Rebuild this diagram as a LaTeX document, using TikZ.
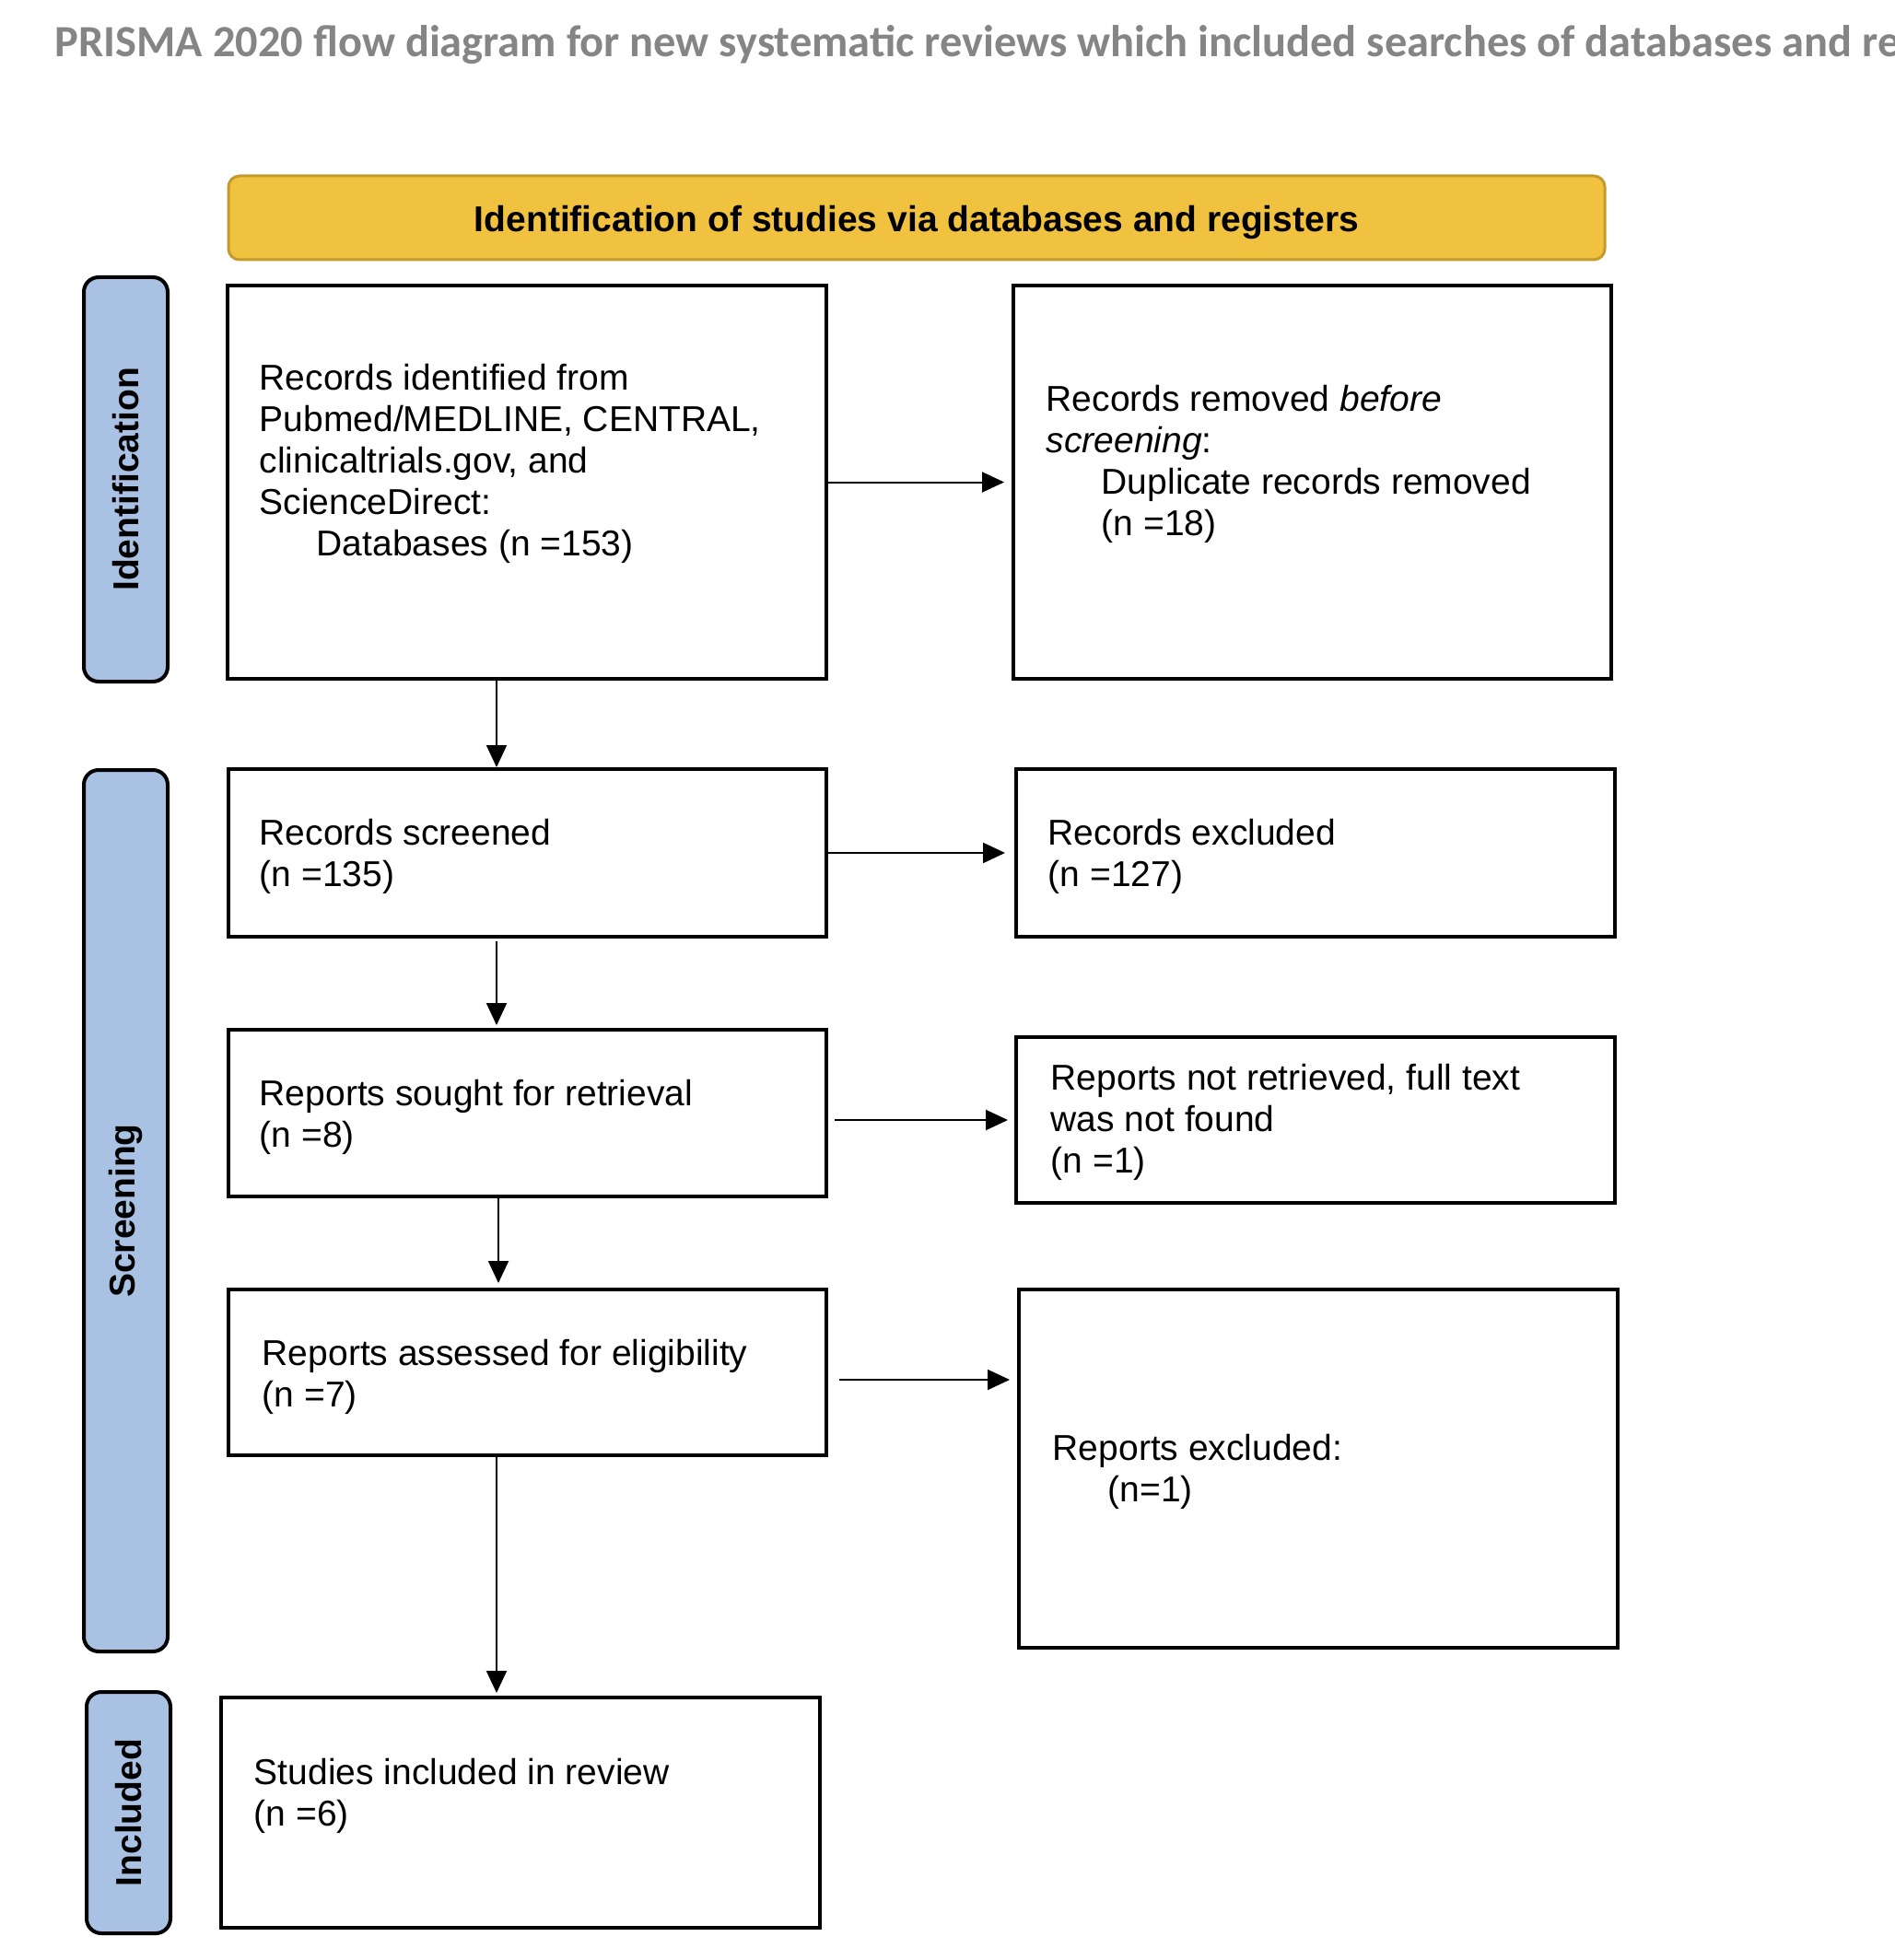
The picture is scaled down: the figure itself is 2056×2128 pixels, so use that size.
\documentclass[tikz,border=0pt]{standalone}
\usepackage{fontspec}
\setmainfont{Liberation Sans}
\newfontfamily\titlefont{Carlito}
\usetikzlibrary{arrows.meta,fit}
\definecolor{prismayellow}{HTML}{F0C23F}
\definecolor{prismagold}{HTML}{C49B2A}
\definecolor{prismablue}{HTML}{A9C1E3}
\definecolor{titlegray}{HTML}{858585}
\begin{document}
\begin{tikzpicture}[x=0.25pt, y=-0.25pt,
  box/.style={draw=black, line width=1pt, inner sep=0pt},
  phase/.style={draw=black, line width=1pt, fill=prismablue, rounded corners=4pt, inner sep=0pt},
  phaselabel/.style={rotate=90, inner sep=0pt, font=\bfseries\fontsize{9.75pt}{11.25pt}\selectfont},
  txt/.style={anchor=base west, align=left, inner sep=0pt, font=\fontsize{9.75pt}{11.25pt}\selectfont},
  arr/.style={line width=0.5pt, -{Triangle[length=6pt, width=5.5pt]}},
]
\useasboundingbox (0,0) rectangle (2056,2128);
\clip (0,0) rectangle (2056,2128);
\fill[white] (0,0) rectangle (2056,2128);

% title
\node[anchor=base west, inner sep=0pt, text=titlegray,
      font=\titlefont\bfseries\fontsize{12.1pt}{14pt}\selectfont] (title) at (59,62)
  {PRISMA 2020 flow diagram for new systematic reviews which included searches of databases and reg};

% header bar
\node[draw=prismagold, line width=0.75pt, fill=prismayellow, rounded corners=3pt, inner sep=0pt,
      fit={(248,191) (1742,282)}] (head) {};
\node[anchor=base, inner sep=0pt, font=\bfseries\fontsize{9.75pt}{11.25pt}\selectfont] (headtxt) at (995,252)
  {Identification of studies via databases and registers};

% phase labels
\node[phase, fit={(91,301) (182,740)}] (pid) {};
\node[phase, fit={(91,836) (182,1793)}] (pscr) {};
\node[phase, fit={(94,1837) (185,2099)}] (pinc) {};
\node[phaselabel] (lid) at (pid.center) {Identification};
\node[phaselabel] (lscr) at (pscr.center) {Screening};
\node[phaselabel] (linc) at (pinc.center) {Included};

% boxes
\node[box, fit={(247,310) (897,737)}] (b1) {};
\node[box, fit={(1100,310) (1749,737)}] (b2) {};
\node[box, fit={(248,835) (897,1017)}] (b3) {};
\node[box, fit={(1103,835) (1753,1017)}] (b4) {};
\node[box, fit={(248,1118) (897,1299)}] (b5) {};
\node[box, fit={(1103,1126) (1753,1306)}] (b6) {};
\node[box, fit={(248,1400) (897,1580)}] (b7) {};
\node[box, fit={(1106,1400) (1756,1789)}] (b8) {};
\node[box, fit={(240,1843) (890,2093)}] (b9) {};

% texts (anchored at the baseline of their last line)
\node[txt] (t1) at (281,603) {Records identified from\\Pubmed/MEDLINE, CENTRAL,\\clinicaltrials.gov, and\\ScienceDirect:\\\hspace*{15.5pt}Databases (n =153)};
\node[txt] (t2) at (1135,581) {Records removed \textit{before}\\\textit{screening}:\\\hspace*{15pt}Duplicate records removed\\\hspace*{15pt}(n =18)};
\node[txt] (t3) at (281,962) {Records screened\\(n =135)};
\node[txt] (t4) at (1137,962) {Records excluded\\(n =127)};
\node[txt] (t5) at (281,1245) {Reports sought for retrieval\\(n =8)};
\node[txt] (t6) at (1140,1273) {Reports not retrieved, full text\\was not found\\(n =1)};
\node[txt] (t7) at (284,1527) {Reports assessed for eligibility\\(n =7)};
\node[txt] (t8) at (1142,1630) {Reports excluded:\\\hspace*{15pt}(n=1)};
\node[txt] (t9) at (275,1982) {Studies included in review\\(n =6)};

% connectors
\coordinate (vx) at (539,0);
\coordinate (vx2) at (541,0);
\draw[arr, shorten >=2pt] (b1.east) -- (b2.west);
\draw[arr, shorten >=2.5pt] (b3.east) -- (b4.west);
\draw[arr, shorten <=1.75pt, shorten >=1.75pt] (b5.east |- b6.west) -- (b6.west);
\draw[arr, shorten <=3pt, shorten >=2pt] ([yshift=-2pt]b7.east) coordinate (a7) -- (a7 -| b8.west);
\draw[arr] (b1.south -| vx) -- (b3.north -| vx);
\draw[arr, shorten <=0.75pt, shorten >=0.75pt] (b3.south -| vx) -- (b5.north -| vx);
\draw[arr, shorten >=1.25pt] (b5.south -| vx2) -- (b7.north -| vx2);
\draw[arr, shorten >=0.75pt] (b7.south -| vx) -- (b9.north -| vx);
\end{tikzpicture}
\end{document}
